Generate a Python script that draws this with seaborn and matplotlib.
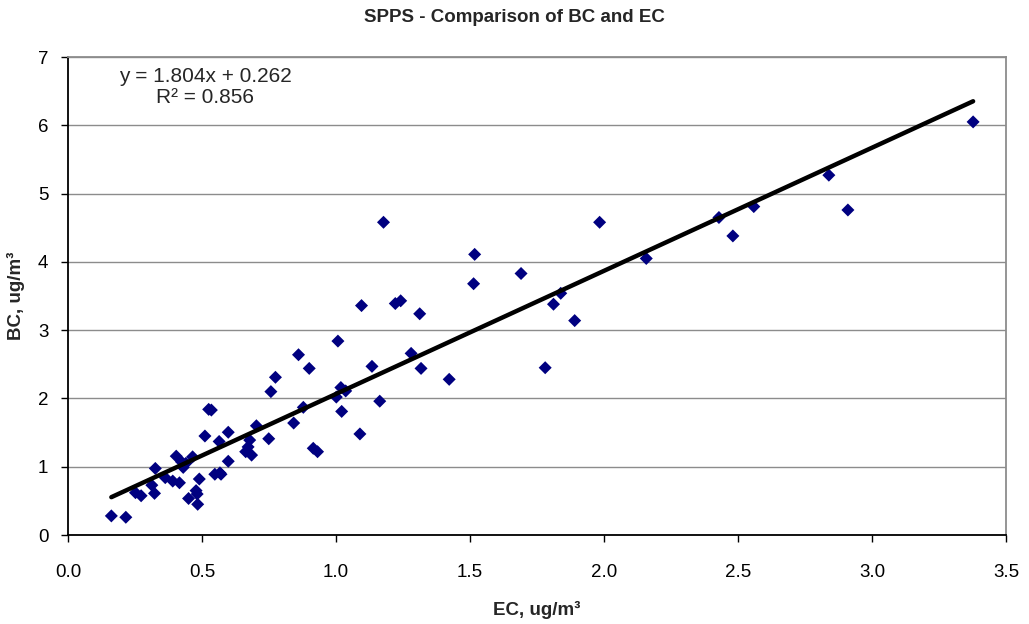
import matplotlib
matplotlib.use("Agg")
import matplotlib.pyplot as plt
import seaborn as sns
import numpy as np
import pandas as pd

# Elemental carbon (EC) vs black carbon (BC), ug/m3
ec = [0.162, 0.216, 0.252, 0.273, 0.323, 0.313, 0.326, 0.363, 0.391, 0.416,
      0.404, 0.424, 0.430, 0.440, 0.465, 0.450, 0.478, 0.482, 0.484, 0.490,
      0.511, 0.525, 0.535, 0.564, 0.548, 0.567, 0.571, 0.598, 0.598, 0.678,
      0.672, 0.663, 0.685, 0.703, 0.749, 0.757, 0.774, 0.842, 0.860, 0.900,
      0.878, 0.915, 0.931, 1.177, 1.517, 1.513, 1.690, 1.095, 1.221, 1.241,
      1.312, 1.007, 1.280, 1.134, 1.317, 1.422, 1.780, 1.018, 1.036, 1.001,
      1.163, 1.021, 1.089, 1.983, 2.428, 2.480, 2.157, 1.838, 1.811, 1.890,
      3.376, 2.838, 2.909, 2.558]
bc = [0.28, 0.26, 0.62, 0.575, 0.61, 0.73, 0.975, 0.84, 0.79, 0.765,
      1.155, 1.07, 0.99, 1.05, 1.145, 0.535, 0.65, 0.60, 0.45, 0.82,
      1.45, 1.84, 1.83, 1.37, 0.89, 0.91, 0.89, 1.505, 1.08, 1.39,
      1.29, 1.22, 1.17, 1.60, 1.41, 2.10, 2.31, 1.64, 2.64, 2.44,
      1.87, 1.27, 1.22, 4.58, 4.11, 3.68, 3.83, 3.36, 3.39, 3.43,
      3.24, 2.84, 2.66, 2.47, 2.44, 2.28, 2.45, 2.16, 2.11, 2.02,
      1.96, 1.81, 1.48, 4.58, 4.65, 4.38, 4.05, 3.54, 3.38, 3.14,
      6.05, 5.27, 4.76, 4.81]

# Linear trend line as reported
slope = 1.804
intercept = 0.262
r_squared = 0.856

x_ticks = [0.0, 0.5, 1.0, 1.5, 2.0, 2.5, 3.0, 3.5]
y_ticks = [0, 1, 2, 3, 4, 5, 6, 7]

df = pd.DataFrame({"EC": ec, "BC": bc})
trend_x = np.array([min(ec), max(ec)])
trend = pd.DataFrame({"EC": trend_x, "BC": slope * trend_x + intercept})

sns.set_theme(style="white")
plt.rcParams["font.family"] = ["Liberation Sans", "DejaVu Sans"]

fig = plt.figure(figsize=(10.29, 6.24), dpi=100)
ax = fig.add_axes([0.066, 0.1426, 0.912, 0.766])

ax.set_xlim(0, 3.5)
ax.set_ylim(0, 7)
ax.set_axisbelow(True)
ax.yaxis.grid(True, color="#8c8c8c", linewidth=1.0)
ax.xaxis.grid(False)

sns.scatterplot(data=df, x="EC", y="BC", ax=ax, marker="D", s=44,
                color="#000080", edgecolor="none", linewidth=0, zorder=3)
sns.lineplot(data=trend, x="EC", y="BC", ax=ax, color="black",
             linewidth=3.2, zorder=4, solid_capstyle="round")

ax.set_xticks(x_ticks)
ax.set_xticklabels([f"{v:.1f}" for v in x_ticks])
ax.set_yticks(y_ticks)
ax.set_yticklabels([str(v) for v in y_ticks])
ax.tick_params(axis="both", which="major", direction="out", length=5,
               width=1, color="black", labelsize=13.5, labelcolor="black",
               bottom=True, left=True, pad=16)
ax.tick_params(axis="y", pad=9)

for side in ("left", "bottom"):
    ax.spines[side].set_color("black")
    ax.spines[side].set_linewidth(1.3)
for side in ("top", "right"):
    ax.spines[side].set_color("#8c8c8c")
    ax.spines[side].set_linewidth(1.3)

ax.set_xlabel("EC, ug/m³", fontsize=13.5, fontweight="bold", labelpad=14)
ax.set_ylabel("BC, ug/m³", fontsize=13.5, fontweight="bold", labelpad=9)
fig.suptitle("SPPS - Comparison of BC and EC", fontsize=13.5,
             fontweight="bold", y=0.985)

ax.text(0.146, 0.98, f"y = {slope}x + {intercept}\nR² = {r_squared}",
        transform=ax.transAxes, ha="center", va="top", fontsize=15,
        multialignment="center", linespacing=1.15)

fig.savefig("out.png", dpi=100, facecolor="white")
